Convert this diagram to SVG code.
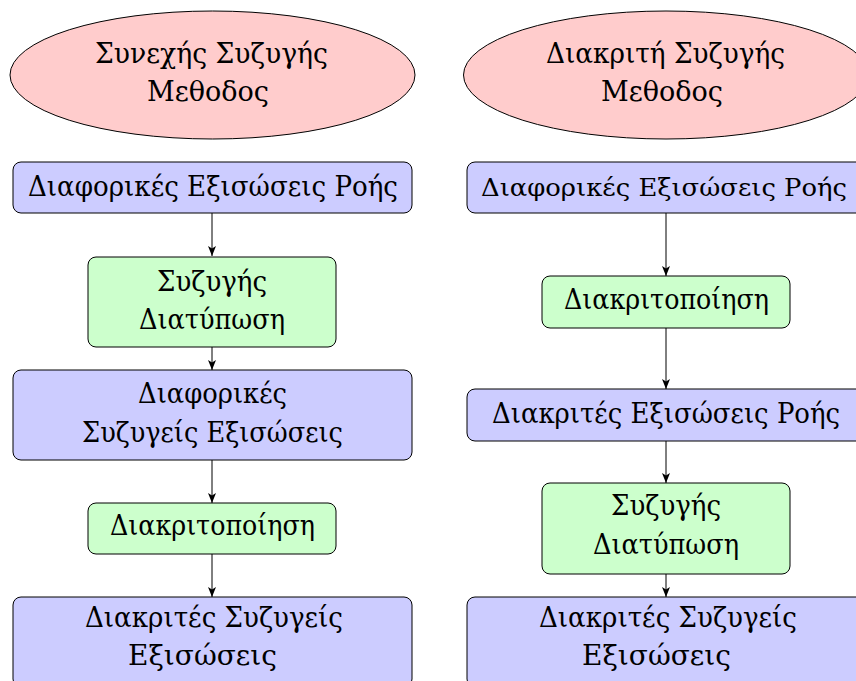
<svg xmlns="http://www.w3.org/2000/svg" width="856" height="681" viewBox="0 0 856 681">
<defs>
<style>
.t{font-family:"DejaVu Serif","Liberation Serif",serif;font-size:27px;fill:#000;text-anchor:middle}
.sm{font-size:25px}
.ell{fill:#ffcccc;stroke:#000;stroke-width:1}
.blue{fill:#ccccff;stroke:#000;stroke-width:1}
.green{fill:#ccffcc;stroke:#000;stroke-width:1}
.c{stroke:#000;stroke-width:1;fill:none;marker-end:url(#ah)}
</style>
<marker id="ah" viewBox="0 0 10 8" refX="10" refY="4" markerWidth="10" markerHeight="8" markerUnits="userSpaceOnUse" orient="auto">
<path d="M0,0 L10,4 L0,8 L2.5,4 Z" fill="#000"/>
</marker>
</defs>
<rect width="856" height="681" fill="#fff"/>
<g id="connectors">
<line class="c" x1="212" y1="213" x2="212" y2="256"/>
<line class="c" x1="212" y1="347" x2="212" y2="370"/>
<line class="c" x1="212" y1="460" x2="212" y2="503"/>
<line class="c" x1="212" y1="554" x2="212" y2="597"/>
<line class="c" x1="666" y1="213" x2="666" y2="276"/>
<line class="c" x1="666" y1="328" x2="666" y2="389"/>
<line class="c" x1="666" y1="441" x2="666" y2="483"/>
<line class="c" x1="666" y1="574" x2="666" y2="597"/>
</g>
<g id="n1">
<ellipse class="ell" cx="212.5" cy="75" rx="202.5" ry="64"/>
<text class="t" x="211.5" y="63" textLength="233" lengthAdjust="spacingAndGlyphs">Συνεχής Συζυγής</text>
<text class="t" x="208" y="101" textLength="122" lengthAdjust="spacingAndGlyphs">Μεθοδος</text>
</g>
<g id="n2">
<rect class="blue" x="13" y="162" width="399" height="51" rx="8"/>
<text class="t" x="213" y="196" textLength="370" lengthAdjust="spacingAndGlyphs">Διαφορικές Εξισώσεις Ροής</text>
</g>
<g id="n3">
<rect class="green" x="88" y="257" width="248" height="90" rx="8"/>
<text class="t" x="212" y="291" textLength="110" lengthAdjust="spacingAndGlyphs">Συζυγής</text>
<text class="t" x="212" y="329" textLength="146" lengthAdjust="spacingAndGlyphs">Διατύπωση</text>
</g>
<g id="n4">
<rect class="blue" x="13" y="370" width="399" height="90" rx="8"/>
<text class="t" x="212.5" y="403" textLength="149" lengthAdjust="spacingAndGlyphs">Διαφορικές</text>
<text class="t" x="212.5" y="442" textLength="261" lengthAdjust="spacingAndGlyphs">Συζυγείς Εξισώσεις</text>
</g>
<g id="n5">
<rect class="green" x="88" y="503" width="248" height="51" rx="8"/>
<text class="t" x="212.5" y="535" textLength="205" lengthAdjust="spacingAndGlyphs">Διακριτοποίηση</text>
</g>
<g id="n6">
<rect class="blue" x="13" y="597" width="399" height="90" rx="8"/>
<text class="t" x="214" y="627" textLength="258" lengthAdjust="spacingAndGlyphs">Διακριτές Συζυγείς</text>
<text class="t" x="202.5" y="665" textLength="149" lengthAdjust="spacingAndGlyphs">Εξισώσεις</text>
</g>
<g id="m1">
<ellipse class="ell" cx="666" cy="75" rx="202.5" ry="64"/>
<text class="t" x="665.5" y="63" textLength="239" lengthAdjust="spacingAndGlyphs">Διακριτή Συζυγής</text>
<text class="t" x="662" y="101" textLength="122" lengthAdjust="spacingAndGlyphs">Μεθοδος</text>
</g>
<g id="m2">
<rect class="blue" x="467" y="162" width="399" height="51" rx="8"/>
<text class="t sm" x="664" y="196" textLength="366" lengthAdjust="spacingAndGlyphs">Διαφορικές Εξισώσεις Ροής</text>
</g>
<g id="m3">
<rect class="green" x="542" y="276" width="248" height="52" rx="8"/>
<text class="t" x="666.5" y="309" textLength="205" lengthAdjust="spacingAndGlyphs">Διακριτοποίηση</text>
</g>
<g id="m4">
<rect class="blue" x="467" y="389" width="399" height="52" rx="8"/>
<text class="t" x="666" y="423" textLength="348" lengthAdjust="spacingAndGlyphs">Διακριτές Εξισώσεις Ροής</text>
</g>
<g id="m5">
<rect class="green" x="542" y="483" width="248" height="91" rx="8"/>
<text class="t" x="666" y="515" textLength="110" lengthAdjust="spacingAndGlyphs">Συζυγής</text>
<text class="t" x="666" y="554" textLength="146" lengthAdjust="spacingAndGlyphs">Διατύπωση</text>
</g>
<g id="m6">
<rect class="blue" x="467" y="597" width="399" height="90" rx="8"/>
<text class="t" x="668" y="627" textLength="258" lengthAdjust="spacingAndGlyphs">Διακριτές Συζυγείς</text>
<text class="t" x="656.5" y="665" textLength="149" lengthAdjust="spacingAndGlyphs">Εξισώσεις</text>
</g>
</svg>
